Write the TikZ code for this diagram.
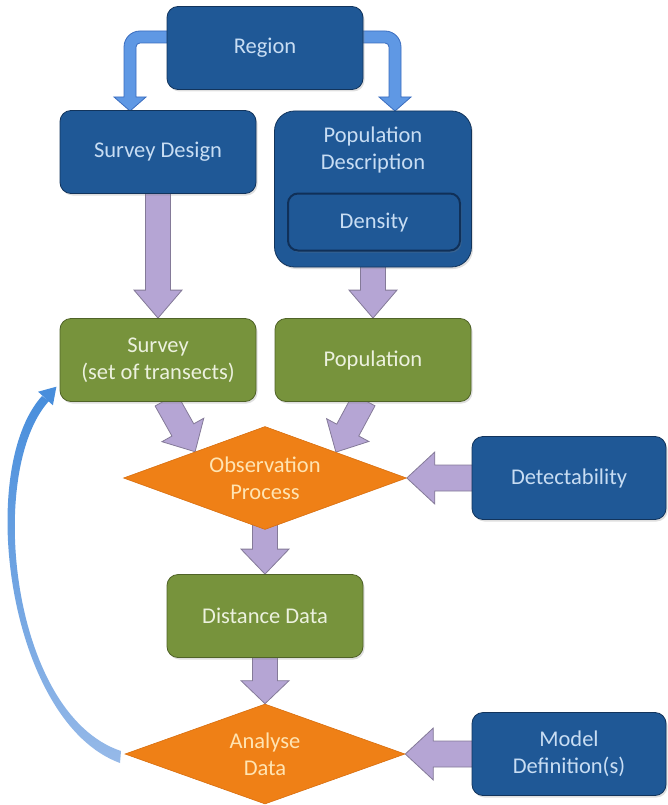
\documentclass[tikz,border=0pt]{standalone}
\usepackage{fontspec}
\setmainfont{Carlito}
\usetikzlibrary{shapes.geometric,calc,shadows}
\pgfdeclarelayer{bg}
\pgfsetlayers{bg,main}
\definecolor{boxblue}{RGB}{31,88,150}
\definecolor{boxblueb}{RGB}{18,52,92}
\definecolor{densb}{RGB}{16,48,88}
\definecolor{txtblue}{RGB}{200,221,243}
\definecolor{boxgreen}{RGB}{119,147,60}
\definecolor{boxgreenb}{RGB}{80,99,40}
\definecolor{txtgreen}{RGB}{236,241,222}
\definecolor{dorange}{RGB}{239,128,22}
\definecolor{dorangeb}{RGB}{215,110,15}
\definecolor{txtorange}{RGB}{255,228,178}
\definecolor{lav}{RGB}{181,165,212}
\definecolor{lavb}{RGB}{132,122,152}
\definecolor{barrow}{RGB}{95,152,228}
\definecolor{barrowb}{RGB}{58,108,190}
\definecolor{cArrTop}{RGB}{72,142,220}
\definecolor{cArrBot}{RGB}{150,185,232}
\newcommand{\blockarrow}[5]{%
  \coordinate (ba-n) at ($(#2)!#5!(#1)$);
  \filldraw[blockarr] ($(#1)!#3!90:(#2)$) -- ($(ba-n)!#3!90:(#2)$) -- ($(ba-n)!#4!90:(#2)$) -- (#2) -- ($(ba-n)!#4!-90:(#2)$) -- ($(ba-n)!#3!-90:(#2)$) -- ($(#1)!#3!-90:(#2)$) -- cycle;}
\tikzset{
  lbl/.style={font=\fontsize{22.5}{27}\selectfont, align=center},
  box/.style={lbl, rounded corners=11pt, minimum width=196pt, minimum height=83pt, inner sep=0pt, line width=0.8pt,
    drop shadow={opacity=0.25, shadow xshift=1.5pt, shadow yshift=-2pt}},
  bluebox/.style={box, fill=boxblue, draw=boxblueb, text=txtblue},
  greenbox/.style={box, fill=boxgreen, draw=boxgreenb, text=txtgreen},
  dia/.style={lbl, diamond, aspect=2.75, fill=dorange, draw=dorangeb, line width=0.6pt, text=txtorange, minimum width=283pt, minimum height=103pt, inner sep=0pt},
  blockarr/.style={fill=lav, draw=lavb, line width=0.8pt, line join=miter},
  elbow/.style={fill=barrow, draw=barrowb, line width=0.8pt, line join=miter},
}
\begin{document}
\begin{tikzpicture}[x=1pt,y=1pt]
\useasboundingbox (0,0) rectangle (667,-805);
% nodes
\node[bluebox] (region) at (265,-48) {Region};
\node[bluebox] (sd) at (158,-152) {Survey Design};
\node[bluebox, minimum width=197pt, minimum height=156pt, rounded corners=20pt] (pd) at (373,-189) {};
\node[lbl, text=txtblue] (pdtext) at (373,-150) {Population\\Description};
\node[bluebox, drop shadow={opacity=0}, draw=densb, line width=2pt, rounded corners=10pt, minimum width=172pt, minimum height=57pt, text depth=0pt, text height=13pt] (dens) at (374,-222) {Density};
\node[greenbox] (surv) at (158,-360) {Survey\\(set of transects)};
\node[greenbox] (pop) at (373,-360) {Population};
\node[dia] (obs) at (265,-478) {Observation\\Process};
\node[bluebox, minimum width=194pt] (det) at (569,-478) {Detectability};
\node[greenbox] (dist) at (265,-616) {Distance Data};
\node[dia, minimum width=280pt, minimum height=100pt] (an) at (265,-754) {Analyse\\Data};
\node[bluebox, minimum width=194pt] (model) at (569,-754) {Model\\Definition(s)};
% connectors
\begin{pgfonlayer}{bg}
  % elbow arrows from Region
  \coordinate (rl) at ($(region.west)+(3,11)$);
  \filldraw[elbow] (rl) ++(0,6) -- (140,-31) arc[start angle=90, end angle=180, radius=16pt] -- (124,-97) -- (114,-97) -- (130,-111) -- (146,-97) -- (136,-97) -- (136,-47) arc[start angle=180, end angle=90, radius=4pt] -- ($(rl)+(0,-6)$) -- cycle;
  \coordinate (rr) at ($(region.east)+(-3,11)$);
  \filldraw[elbow] (rr) ++(0,6) -- (385,-31) arc[start angle=90, end angle=0, radius=16pt] -- (401,-97) -- (411,-97) -- (395,-111) -- (379,-97) -- (389,-97) -- (389,-47) arc[start angle=0, end angle=90, radius=4pt] -- ($(rr)+(0,-6)$) -- cycle;
  % block arrows
  \coordinate (a1s) at ($(sd.south)+(0,3)$);
  \blockarrow{a1s}{surv.north}{12.5pt}{24pt}{28pt}
  \coordinate (a2s) at ($(pd.south)+(0,3)$);
  \blockarrow{a2s}{pop.north}{12.5pt}{24pt}{28pt}
  \coordinate (a3s) at ($(surv.south)+(8,2)$);
  \coordinate (a3e) at ($(obs.west)!0.507!(obs.north)$);
  \blockarrow{a3s}{a3e}{12.5pt}{24pt}{25pt}
  \coordinate (a4s) at ($(pop.south)+(-9,2)$);
  \coordinate (a4e) at ($(obs.north)!0.5!(obs.east)$);
  \blockarrow{a4s}{a4e}{12.5pt}{24pt}{25pt}
  \coordinate (a5s) at ($(det.west)+(3,0)$);
  \blockarrow{a5s}{obs.east}{13pt}{26pt}{28pt}
  \coordinate (a6s) at ($(obs.south)+(0,8)$);
  \blockarrow{a6s}{dist.north}{12.5pt}{24pt}{25pt}
  \coordinate (a7s) at ($(dist.south)+(0,3)$);
  \blockarrow{a7s}{an.north}{12.5pt}{24pt}{23pt}
  \coordinate (a8s) at ($(model.west)+(3,0)$);
  \blockarrow{a8s}{an.east}{13pt}{26pt}{28pt}
\end{pgfonlayer}
% curved feedback arrow from Analyse Data to Survey
\shade[top color=cArrTop, bottom color=cArrBot] (120,-763) .. controls (8,-722) and (-25,-470) .. (42,-396) -- (49,-401) .. controls (-14,-470) and (10,-714) .. (121,-751) -- cycle;
\fill[cArrTop] (52.9,-405.3) -- (56.4,-386.7) -- (38.1,-391.7) -- cycle;
\end{tikzpicture}
\end{document}
